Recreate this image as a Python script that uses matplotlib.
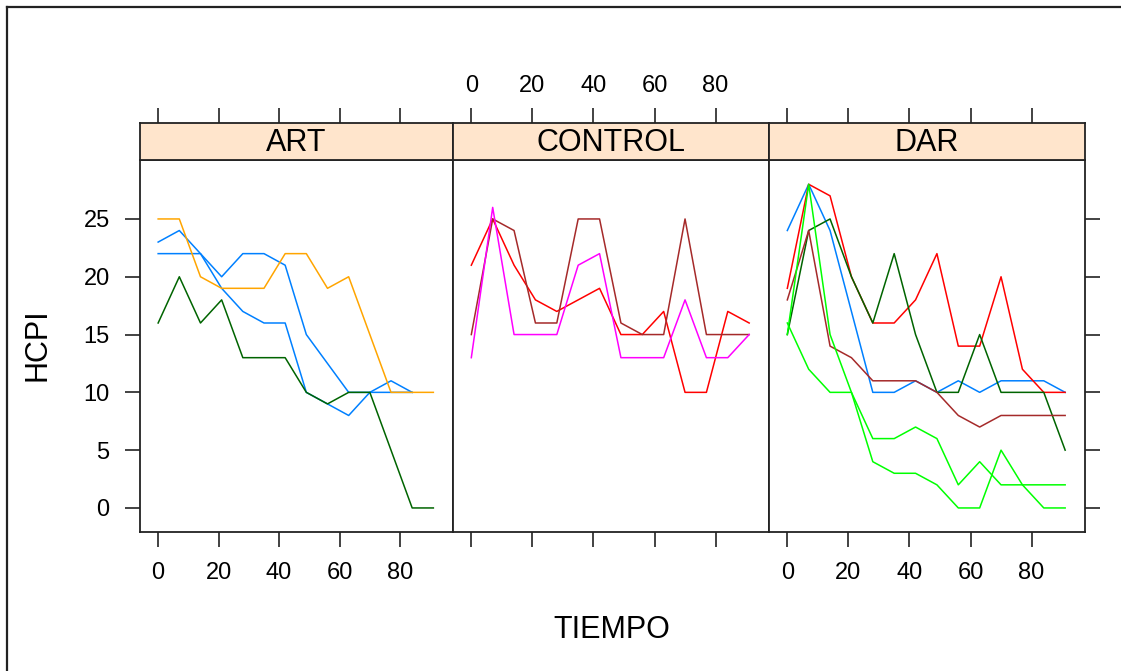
import numpy as np
import matplotlib.pyplot as plt
from matplotlib.lines import Line2D

plt.rcParams['font.family'] = ['Liberation Sans', 'DejaVu Sans']

# -----------------------------
# Datos (HCPI por sujeto, por grupo)
# -----------------------------
tiempo = [0, 7, 14, 21, 28, 35, 42, 49, 56, 63, 70, 77, 84, 91]
nan = np.nan

art_azul1 = [23, 24, 22, 19, 17, 16, 16, 10, 9, 8, 10, 10, 10, nan]
art_azul2 = [22, 22, 22, 20, 22, 22, 21, 15, 12.5, 10, 10, 11, 10, nan]
art_verde = [16, 20, 16, 18, 13, 13, 13, 10, 9, 10, 10, 5, 0, 0]
art_naranja = [25, 25, 20, 19, 19, 19, 22, 22, 19, 20, 15, 10, 10, 10]

ctl_rojo = [21, 25, 21, 18, 17, 18, 19, 15, 15, 17, 10, 10, 17, 16]
ctl_cafe = [15, 25, 24, 16, 16, 25, 25, 16, 15, 15, 25, 15, 15, 15]
ctl_magenta = [13, 26, 15, 15, 15, 21, 22, 13, 13, 13, 18, 13, 13, 15]

dar_azul = [24, 28, 24, 17, 10, 10, 11, 10, 11, 10, 11, 11, 11, 10]
dar_rojo = [19, 28, 27, 20, 16, 16, 18, 22, 14, 14, 20, 12, 10, 10]
dar_verde_osc = [15, 24, 25, 20, 16, 22, 15, 10, 10, 15, 10, 10, 10, 5]
dar_cafe = [18, 24, 14, 13, 11, 11, 11, 10, 8, 7, 8, 8, 8, 8]
dar_verde1 = [16, 12, 10, 10, 6, 6, 7, 6, 2, 4, 2, 2, 2, 2]
dar_verde2 = [15, 28, 15, 10, 4, 3, 3, 2, 0, 0, 5, 2, 0, 0]

paneles = ['ART', 'CONTROL', 'DAR']
series = {
    'ART': [(art_azul1, '#0080ff'), (art_azul2, '#0080ff'),
            (art_verde, 'darkgreen'), (art_naranja, 'orange')],
    'CONTROL': [(ctl_rojo, '#ff0000'), (ctl_cafe, 'brown'),
                (ctl_magenta, '#ff00ff')],
    'DAR': [(dar_azul, '#0080ff'), (dar_rojo, '#ff0000'),
            (dar_verde_osc, 'darkgreen'), (dar_cafe, 'brown'),
            (dar_verde1, '#00ff00'), (dar_verde2, '#00ff00')],
}

xticks = [0, 20, 40, 60, 80]
yticks = [0, 5, 10, 15, 20, 25]

# -----------------------------
# Figura (estilo lattice)
# -----------------------------
W, H = 1121, 671
fig = plt.figure(figsize=(W / 100, H / 100), dpi=100)

def caja(x0, y0, x1, y1):
    # pixeles (origen arriba-izq) -> fracción de figura
    return [x0 / W, 1 - y1 / H, (x1 - x0) / W, (y1 - y0) / H]

bordes = [140, 453, 769, 1085]
tick_len = 10.8
fs_tick = 17
fs_lab = 22

for i, nombre in enumerate(paneles):
    ax = fig.add_axes(caja(bordes[i], 160, bordes[i + 1], 532))
    st = fig.add_axes(caja(bordes[i], 123, bordes[i + 1], 160), sharex=ax)

    for y, col in series[nombre]:
        ax.plot(tiempo, y, color=col, lw=1.1)

    ax.set_xlim(-6, 97.5)
    ax.set_ylim(-2.08, 30.1)
    ax.set_xticks(xticks)
    ax.set_yticks(yticks)
    for a in (ax, st):
        for s in a.spines.values():
            s.set_linewidth(1.3)
            s.set_color('#222222')
    ax.tick_params(direction='out', length=tick_len, width=1.2, pad=11,
                   labelsize=fs_tick, color='#222222')

    # eje x: abajo con etiquetas en ART/DAR, arriba en CONTROL
    if nombre == 'CONTROL':
        ax.tick_params(axis='x', labelbottom=False)
        st.tick_params(axis='x', top=True, labeltop=True, bottom=False,
                       labelbottom=False)
    else:
        st.tick_params(axis='x', top=True, labeltop=False, bottom=False,
                       labelbottom=False)
    st.tick_params(axis='x', direction='out', length=tick_len, width=1.2,
                   pad=8, labelsize=fs_tick, color='#222222')

    # eje y: izquierda en ART, derecha sin etiquetas en DAR
    if nombre == 'ART':
        ax.tick_params(axis='y', left=True, labelleft=True)
    elif nombre == 'DAR':
        ax.tick_params(axis='y', left=False, labelleft=False, right=True,
                       labelright=False)
    else:
        ax.tick_params(axis='y', left=False, labelleft=False)

    st.set_facecolor('#ffe5cc')
    st.set_yticks([])
    st.text(0.5, 0.45, nombre, transform=st.transAxes, ha='center',
            va='center', fontsize=fs_lab)

fig.text(37 / W, 1 - 345 / H, 'HCPI', rotation=90, ha='center',
         va='center', fontsize=fs_lab)
fig.text(612 / W, 1 - 630 / H, 'TIEMPO', ha='center', va='center',
         fontsize=fs_lab)

# marco de la captura (izquierda y arriba)
fig.add_artist(Line2D([7 / W, 7 / W], [0, 1 - 7 / H], color='#222222',
                      lw=1.6))
fig.add_artist(Line2D([7 / W, 1], [1 - 7 / H, 1 - 7 / H], color='#222222',
                      lw=1.6))

fig.savefig('out.png', dpi=100)
